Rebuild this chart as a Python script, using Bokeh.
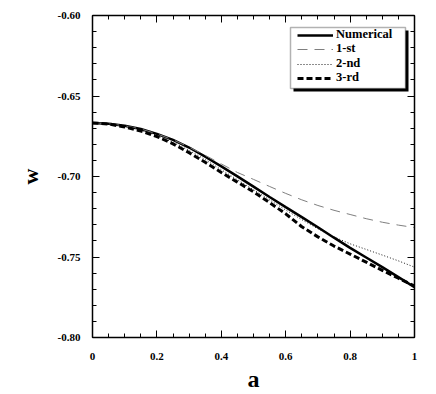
from bokeh.plotting import figure
from bokeh.models import (Range1d, LinearAxis, Legend, LegendItem, SingleIntervalTicker,
                          BoxAnnotation, CustomJSTickFormatter)
from bokeh.embed import file_html
from bokeh.resources import INLINE

# ---- data ----
a_vals = [0.00, 0.05, 0.10, 0.15, 0.20, 0.25, 0.30, 0.35, 0.40, 0.45, 0.50,
          0.55, 0.60, 0.65, 0.70, 0.75, 0.80, 0.85, 0.90, 0.95, 1.00]
w_numerical = [-0.6667, -0.6672, -0.6685, -0.6705, -0.6735, -0.6773, -0.6820, -0.6877, -0.6937, -0.6999, -0.7063,
               -0.7127, -0.7190, -0.7252, -0.7315, -0.7380, -0.7443, -0.7503, -0.7563, -0.7625, -0.7688]
w_first = [-0.6667, -0.6672, -0.6685, -0.6705, -0.6735, -0.6772, -0.6818, -0.6868, -0.6922, -0.6975, -0.7018,
           -0.7062, -0.7105, -0.7145, -0.7180, -0.7210, -0.7236, -0.7262, -0.7284, -0.7302, -0.7317]
w_second = [-0.6667, -0.6673, -0.6688, -0.6712, -0.6745, -0.6788, -0.6838, -0.6895, -0.6958, -0.7020, -0.7082,
            -0.7145, -0.7208, -0.7268, -0.7325, -0.7375, -0.7418, -0.7453, -0.7488, -0.7524, -0.7563]
w_third = [-0.6667, -0.6674, -0.6692, -0.6718, -0.6752, -0.6797, -0.6852, -0.6912, -0.6975, -0.7035, -0.7095,
           -0.7162, -0.7232, -0.7312, -0.7375, -0.7432, -0.7482, -0.7532, -0.7583, -0.7632, -0.7680]
series_names = ["Numerical", "1-st", "2-nd", "3-rd"]
x_tick_step = 0.2
y_tick_step = 0.05

FONT = "Liberation Serif"

p = figure(width=436, height=394, output_backend="svg", toolbar_location=None,
           x_range=Range1d(0, 1), y_range=Range1d(-0.80, -0.60),
           min_border_left=92, min_border_right=22, min_border_top=15, min_border_bottom=57)
p.grid.visible = False
p.outline_line_color = None
p.background_fill_color = "white"

r_num = p.line(a_vals, w_numerical, line_color="black", line_width=2.5)
r_1 = p.line(a_vals, w_first, line_color="#7f7f7f", line_width=1, line_dash="10 7")
r_2 = p.line(a_vals, w_second, line_color="black", line_width=0.9, line_dash="1 2")
r_3 = p.line(a_vals, w_third, line_color="black", line_width=3, line_dash="6 3")


def style_axis(ax, show_labels):
    ax.axis_line_color = "black"
    ax.axis_line_width = 1.5
    ax.major_tick_in = 7
    ax.major_tick_out = 0
    ax.minor_tick_in = 4
    ax.minor_tick_out = 0
    ax.major_tick_line_color = "black"
    ax.minor_tick_line_color = "black"
    ax.major_label_text_font = FONT
    ax.major_label_text_font_style = "bold"
    ax.major_label_text_font_size = "11px"
    ax.major_label_text_color = "black"
    ax.major_label_standoff = 12
    if not show_labels:
        ax.major_label_text_font_size = "0px"
        ax.major_label_text_color = None
        ax.major_label_standoff = 0


p.xaxis.ticker = SingleIntervalTicker(interval=x_tick_step, num_minor_ticks=4)
p.yaxis.ticker = SingleIntervalTicker(interval=y_tick_step, num_minor_ticks=5)
p.xaxis.formatter = CustomJSTickFormatter(code="""
var v = Math.round(tick*10)/10; if (Math.abs(v-1)<1e-9) return '1'; if (Math.abs(v)<1e-9) return '0'; return v.toFixed(1);""")
p.yaxis.formatter = CustomJSTickFormatter(code="return tick.toFixed(2);")
style_axis(p.xaxis[0], True)
style_axis(p.yaxis[0], True)
p.xaxis.major_label_standoff = 15
p.xaxis.axis_label = "a"
p.yaxis.axis_label = "w"
for ax in (p.xaxis[0], p.yaxis[0]):
    ax.axis_label_text_font = FONT
    ax.axis_label_text_font_style = "bold"
    ax.axis_label_text_color = "black"
p.xaxis.axis_label_text_font_size = "24px"
p.yaxis.axis_label_text_font_size = "22px"
p.xaxis.axis_label_standoff = 3
p.yaxis.axis_label_standoff = 12

top = LinearAxis(ticker=SingleIntervalTicker(interval=x_tick_step, num_minor_ticks=4))
right = LinearAxis(ticker=SingleIntervalTicker(interval=y_tick_step, num_minor_ticks=5))
style_axis(top, False)
style_axis(right, False)
p.add_layout(top, "above")
p.add_layout(right, "right")

# legend frame and shadow (frame pixel offsets converted to data units)
px_x = 1.0 / 322
px_y = 0.2 / 322
shadow = BoxAnnotation(left=201 * px_x, right=316 * px_x,
                       bottom=-0.80 + 246 * px_y, top=-0.80 + 307 * px_y,
                       fill_color="black", fill_alpha=1, line_color=None)
p.add_layout(shadow)
box = BoxAnnotation(left=198 * px_x, right=313 * px_x,
                    bottom=-0.80 + 249 * px_y, top=-0.80 + 310 * px_y,
                    fill_color="white", fill_alpha=1, line_color="black", line_width=1.5)
p.add_layout(box)

row_bottoms = [295, 281, 266, 252]
for name, r, yb in zip(series_names, [r_num, r_1, r_2, r_3], row_bottoms):
    lg = Legend(items=[LegendItem(label=name, renderers=[r])], location=(205, yb))
    lg.label_text_font = FONT
    lg.label_text_font_style = "bold"
    lg.label_text_font_size = "12.5px"
    lg.label_text_color = "black"
    lg.glyph_width = 36
    lg.glyph_height = 12
    lg.label_height = 12
    lg.label_standoff = 3
    lg.spacing = 0
    lg.padding = 0
    lg.margin = 0
    lg.border_line_color = None
    lg.background_fill_alpha = 0
    p.add_layout(lg)

open("out.html", "w").write(file_html(p, INLINE))
